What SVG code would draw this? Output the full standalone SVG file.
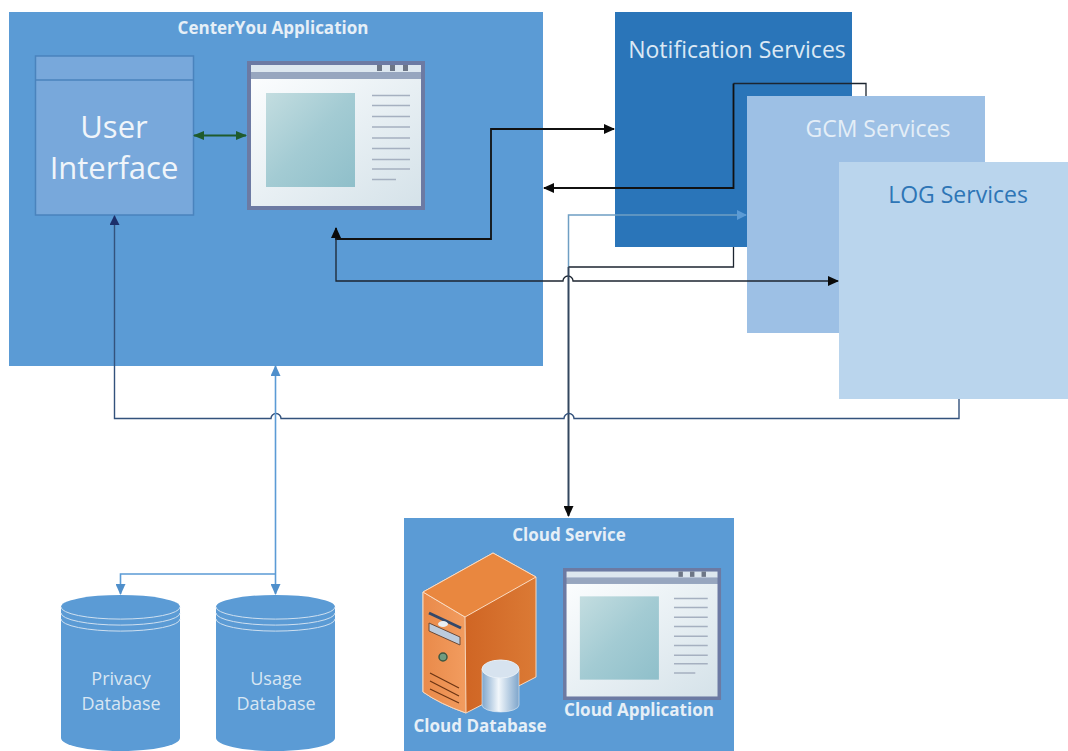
<svg xmlns="http://www.w3.org/2000/svg" width="1068" height="751" viewBox="0 0 1068 751">
<style>
text{font-family:"Open Sans","Noto Sans","Liberation Sans",sans-serif;text-anchor:middle}
.w{fill:#f0f5fa;font-size:31px}
.b{font-weight:700;font-size:17px;fill:#e6eff7}
.db{font-size:18px;fill:#d8e6f3}
.h{font-size:23px}
.c{fill:none;stroke-linejoin:miter}
.k{stroke:#111;stroke-width:1.800}
.k1{stroke:#1c2530;stroke-width:1.300}
.n{stroke:#33527c;stroke-width:1.400}
.l{stroke:#5b9bd5;stroke-width:1.600}
.cyl{fill:#5b9bd5}
.rim{fill:none;stroke:#cfe0f0;stroke-width:1}
.line{stroke:#a5b0c0;stroke-width:1.600}
</style>
<defs>
<marker id="ak" markerWidth="11" markerHeight="10" refX="10" refY="5" orient="auto-start-reverse" markerUnits="userSpaceOnUse"><path d="M0 0L11 5L0 10Z" fill="#0a0a0a"/></marker>
<marker id="an" markerWidth="10" markerHeight="10" refX="9" refY="5" orient="auto-start-reverse" markerUnits="userSpaceOnUse"><path d="M0 0L10 5L0 10Z" fill="#1c2f6b"/></marker>
<marker id="al" markerWidth="11" markerHeight="10" refX="10" refY="5" orient="auto-start-reverse" markerUnits="userSpaceOnUse"><path d="M0 0L11 5L0 10Z" fill="#4f8fcb"/></marker>
<marker id="alt" markerWidth="10" markerHeight="10" refX="9" refY="5" orient="auto" markerUnits="userSpaceOnUse"><path d="M0 0L10 5L0 10Z" fill="#5b9bd5"/></marker>
<marker id="ag" markerWidth="11" markerHeight="9" refX="10" refY="4.500" orient="auto-start-reverse" markerUnits="userSpaceOnUse"><path d="M0 0L11 4.500L0 9Z" fill="#1f5b2c"/></marker>
<linearGradient id="pic" x1="0" y1="0" x2="1" y2="1"><stop offset="0" stop-color="#c3dde0"/><stop offset=".5" stop-color="#a3cbd3"/><stop offset="1" stop-color="#8fbfca"/></linearGradient>
<linearGradient id="win" x1="0" y1="0" x2="1" y2="1"><stop offset="0" stop-color="#fbfdfe"/><stop offset="1" stop-color="#d5e2e9"/></linearGradient>
<linearGradient id="side" x1="0" y1="0" x2="1" y2="0"><stop offset="0" stop-color="#c9591a"/><stop offset="1" stop-color="#db7a35"/></linearGradient>
<linearGradient id="front" x1="0" y1="0" x2="1" y2="0"><stop offset="0" stop-color="#e98a4a"/><stop offset="1" stop-color="#f29c5f"/></linearGradient>
<linearGradient id="can" x1="0" y1="0" x2="1" y2="0"><stop offset="0" stop-color="#7fa6cc"/><stop offset=".45" stop-color="#f2f7fb"/><stop offset="1" stop-color="#7ea5cb"/></linearGradient>
<g id="window">
<rect x="0" y="0" width="178" height="149" fill="#6c7aa3"/>
<rect x="4" y="4" width="170" height="7" fill="#dde7ef"/>
<rect x="4" y="11" width="170" height="7" fill="#97a6bf"/>
<rect x="4" y="18" width="170" height="127" fill="url(#win)"/>
<rect x="19" y="32" width="89" height="94" fill="url(#pic)"/>
<rect x="130" y="4" width="5" height="6" fill="#6d7686"/><rect x="143" y="4" width="5" height="6" fill="#6d7686"/><rect x="156" y="4" width="5" height="6" fill="#6d7686"/>
<path class="line" d="M125 34.500H163M125 44.500H163M125 55.500H163M125 66H163M125 77H163M125 87.500H163M125 98.500H163M125 108H163M125 118.500H149"/>
</g>
</defs>

<g id="centeryou-application">
<rect x="9" y="12" width="534" height="354" fill="#5b9bd5"/>
<text class="b" x="273" y="34">CenterYou Application</text>
</g>
<g id="user-interface">
<rect x="35.500" y="56" width="158" height="159" fill="#78a8db" stroke="#4a83bd" stroke-width="1.500"/>
<path d="M35.500 80H193.500" stroke="#4a83bd" stroke-width="1.500"/>
<text class="w" x="114" y="138">User</text>
<text class="w" x="114" y="179">Interface</text>
</g>
<use id="app-window" href="#window" x="247" y="61"/>

<g id="notification-services">
<rect x="615" y="12" width="237" height="235" fill="#2a75b9"/>
<text class="h" x="737" y="58" fill="#dbe8f4">Notification Services</text>
</g>
<g id="gcm-services">
<rect x="747" y="96" width="238" height="237" fill="#9dc0e5"/>
<text class="h" x="878" y="137" fill="#e4eef7">GCM Services</text>
</g>
<g id="log-services">
<rect x="839" y="162" width="229" height="237" fill="#bad5ed"/>
<text class="h" x="958" y="203" fill="#2e75b6">LOG Services</text>
</g>

<g id="cloud-service">
<rect x="404" y="518" width="330" height="233" fill="#5b9bd5"/>
<text class="b" x="569" y="541">Cloud Service</text>
<use href="#window" transform="translate(563 568) scale(.888 .886)"/>
<text class="b" x="639" y="716">Cloud Application</text>
</g>
<g id="cloud-database">
<path d="M466 713L536 677V577L493 553L423 592V692Q440 704 466 713Z" fill="url(#side)" stroke="#f6d8bf"/>
<path d="M423 592L465 617L466 713Q440 704 423 692Z" fill="url(#front)" stroke="#f6d8bf"/>
<path d="M423 592L493 553L536 577L465 617Z" fill="#e9873f" stroke="#f9dcc4"/>
<path d="M429 613L461 628" stroke="#33486a" stroke-width="3" fill="none"/>
<path d="M429 623L460 637V645L429 631Z" fill="#bccbdc" stroke="#6b4a38"/>
<ellipse cx="443" cy="624" rx="5" ry="3" fill="#e9eef4"/>
<circle cx="443" cy="657" r="4" fill="#6f9c80" stroke="#3d5740" stroke-width="1.500"/>
<path d="M430 673L459 688M430 681L459 696M430 689L459 703" stroke="#6b3413" stroke-width="1.200" fill="none"/>
<path d="M482 669V705A18.500 7 0 0 0 519 705V669Z" fill="url(#can)" stroke="#e8f0f7" stroke-width=".6"/>
<ellipse cx="500.500" cy="669" rx="18.500" ry="9" fill="#d7e3ef" stroke="#e8f0f7"/>
<text class="b" x="480" y="732">Cloud Database</text>
</g>

<g id="privacy-database">
<path class="cyl" d="M61 607A59 12 0 0 1 180 607V738A59 13 0 0 1 61 738Z"/>
<path class="rim" d="M61 607A59 12 0 0 0 180 607M61 613A59 12 0 0 0 180 613M61 619A59 12 0 0 0 180 619"/>
<text class="db" x="121" y="685">Privacy</text>
<text class="db" x="121" y="710">Database</text>
</g>
<g id="usage-database">
<path class="cyl" d="M216 607A59 12 0 0 1 335 607V738A59 13 0 0 1 216 738Z"/>
<path class="rim" d="M216 607A59 12 0 0 0 335 607M216 613A59 12 0 0 0 335 613M216 619A59 12 0 0 0 335 619"/>
<text class="db" x="276" y="685">Usage</text>
<text class="db" x="276" y="710">Database</text>
</g>

<g id="connectors">
<path class="c" stroke="#1f5b2c" stroke-width="2" marker-start="url(#ag)" marker-end="url(#ag)" d="M194 135.500H246"/>
<path class="c k" marker-start="url(#ak)" marker-end="url(#ak)" d="M336 228V239H491V129H614"/>
<path class="c k1" marker-end="url(#ak)" d="M336 239V281H563A5 5 0 0 1 573 281H838"/>
<path class="c k1" d="M866 96V83.500H733.500"/>
<path class="c k" marker-end="url(#ak)" d="M733.500 83.500V188H544"/>
<path class="c" stroke="#6f9fc4" stroke-width="1.500" marker-end="url(#alt)" d="M568.500 267V215H746"/>
<path class="c k1" d="M733.500 247V267H568.500"/>
<path class="c" stroke="#33465e" stroke-width="2" marker-end="url(#ak)" d="M568.500 267V516"/>
<path class="c n" marker-end="url(#an)" d="M959 399V418.500H574A5 5 0 0 0 564 418.500H281A5 5 0 0 0 271 418.500H114.500V216"/>
<path class="c l" marker-start="url(#al)" marker-end="url(#al)" d="M275.500 366V594"/>
<path class="c l" marker-end="url(#al)" d="M275.500 574H120.500V594"/>
</g>
</svg>
